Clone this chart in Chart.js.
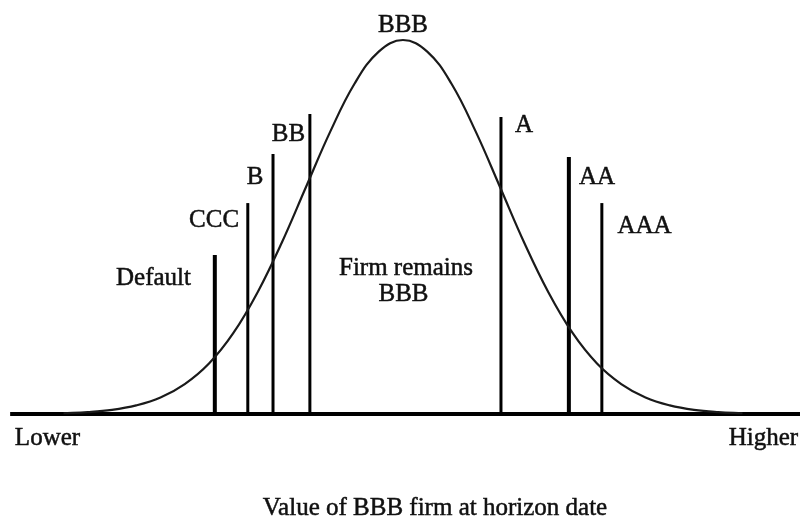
<!DOCTYPE html>
<html>
<head>
<meta charset="utf-8">
<script src="https://cdn.jsdelivr.net/npm/chart.js@4/dist/chart.umd.min.js"></script>
<style>
  html, body { margin: 0; padding: 0; background: #ffffff; }
  #wrap { width: 800px; height: 517px; }
</style>
</head>
<body>
<div id="wrap"><canvas id="c" width="800" height="517"></canvas></div>
<script>
// ---- Data (x in standard deviations from the BBB value, y relative density) ----
const curveX = [-3.5, -3.25, -3.0, -2.75, -2.5, -2.25, -2.0, -1.75, -1.5, -1.25, -1.0, -0.75, -0.5, -0.25, 0,
                 0.25, 0.5, 0.75, 1.0, 1.25, 1.5, 1.75, 2.0, 2.25, 2.5, 2.75, 3.0, 3.25, 3.5];
const curveY = [0.002, 0.005, 0.011, 0.023, 0.044, 0.080, 0.135, 0.216, 0.325, 0.458, 0.607, 0.755, 0.883, 0.969, 1.000,
                 0.969, 0.883, 0.755, 0.607, 0.458, 0.325, 0.216, 0.135, 0.080, 0.044, 0.023, 0.011, 0.005, 0.002];

const gradeNames   = ['Default', 'CCC', 'B', 'BB', 'A', 'AA', 'AAA'];
const thresholdX   = [-1.94, -1.60, -1.34, -0.96, 1.01, 1.71, 2.05];
const thresholdTop = [0.425, 0.564, 0.695, 0.802, 0.794, 0.687, 0.564];

const labelText = ['BBB', 'BB', 'B', 'CCC', 'Default', 'A', 'AA', 'AAA', 'Firm remains', 'BBB', 'Lower', 'Higher',
                   'Value of BBB firm at horizon date'];
const labelX    = [0.0, -1.18, -1.526, -1.948, -2.572, 1.247, 2.0, 2.49, 0.031, 0.005, -3.665, 3.716, 0.33];
const labelY    = [1.021, 0.730, 0.615, 0.500, 0.345, 0.754, 0.615, 0.484, 0.372, 0.302, -0.083, -0.083, -0.270];

const axisRange = [-4.05, 4.1];

// ---- Styles ----
const lineWidths = [4, 3, 3, 3, 3, 4, 3];
const ink = '#111111';

const datasets = [];
datasets.push({
  label: 'Value distribution',
  data: curveX.map((x, i) => ({ x: x, y: curveY[i] })),
  showLine: true, borderColor: '#1a1a1a', borderWidth: 2.2, pointRadius: 0, tension: 0.4, fill: false
});
datasets.push({
  label: 'Baseline',
  data: [{ x: axisRange[0], y: 0 }, { x: axisRange[1], y: 0 }],
  showLine: true, borderColor: '#000000', borderWidth: 4, pointRadius: 0, tension: 0, borderCapStyle: 'butt'
});
gradeNames.forEach((g, i) => {
  datasets.push({
    label: g + ' threshold',
    data: [{ x: thresholdX[i], y: 0 }, { x: thresholdX[i], y: thresholdTop[i] }],
    showLine: true, borderColor: '#000000', borderWidth: lineWidths[i], pointRadius: 0, tension: 0,
    borderCapStyle: 'butt'
  });
});

const textPlugin = {
  id: 'textLabels',
  afterDatasetsDraw(chart) {
    const ctx = chart.ctx;
    const xs = chart.scales.x, ys = chart.scales.y;
    ctx.save();
    ctx.fillStyle = ink;
    ctx.strokeStyle = ink;
    ctx.lineWidth = 0.5;
    ctx.font = '25px "Liberation Serif", "Times New Roman", serif';
    ctx.textAlign = 'center';
    ctx.textBaseline = 'alphabetic';
    labelText.forEach((t, i) => {
      const px = xs.getPixelForValue(labelX[i]), py = ys.getPixelForValue(labelY[i]);
      ctx.fillText(t, px, py);
      ctx.strokeText(t, px, py);
    });
    ctx.restore();
  }
};

new Chart(document.getElementById('c'), {
  type: 'scatter',
  data: { datasets: datasets },
  options: {
    responsive: false,
    animation: false,
    layout: { padding: 0 },
    plugins: { legend: { display: false }, tooltip: { enabled: false }, title: { display: false } },
    scales: {
      x: { type: 'linear', display: false, min: -4.1546, max: 4.0928 },
      y: { type: 'linear', display: false, min: -0.2754, max: 1.107 }
    }
  },
  plugins: [textPlugin]
});
</script>
</body>
</html>
